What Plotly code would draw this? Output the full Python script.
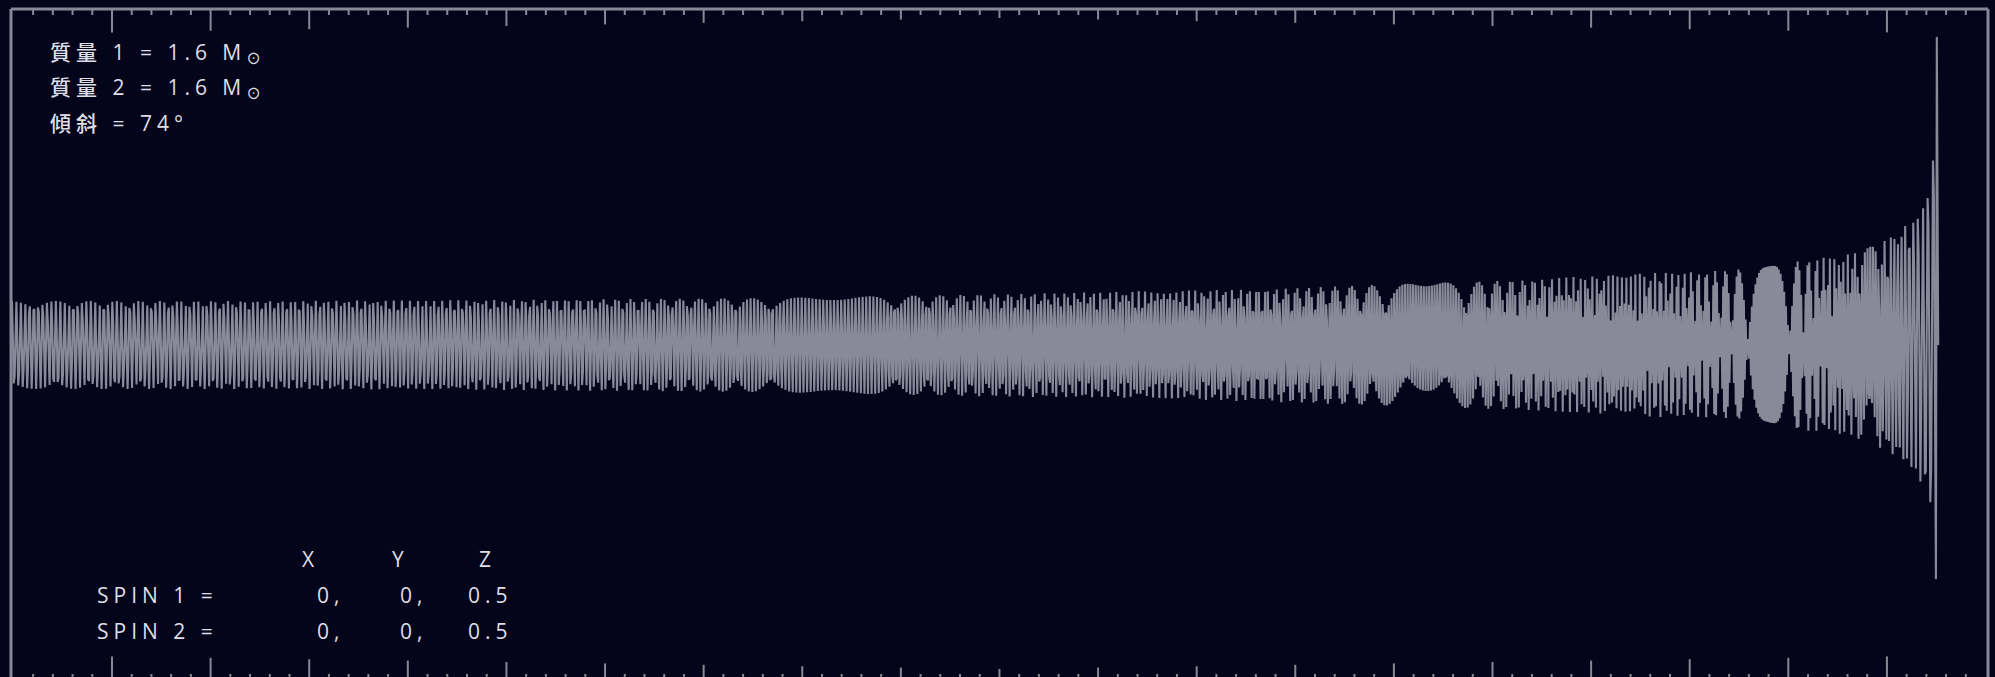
import numpy as np
import plotly.graph_objects as go

# ---- strain envelope (arb. units, 0 = trace centre), read per time knot ----
env_t = [-0.024, 2.44, 5.03, 7.6, 10.19, 11.47, 12.77, 14.05, 15.32, 16.0, 16.64,
         17.11, 17.71, 18.12, 18.63, 18.96, 19.20, 19.33, 19.44, 19.47, 19.49, 19.50]
env_upper = [44, 44, 45, 47, 51, 54, 56, 61, 65, 69, 72,
             73, 77, 84, 91, 103, 120, 138, 164, 194, 259, 308]
env_lower = [44, 44, 45, 47, 52, 53, 57, 61, 65, 68, 72,
             72, 75, 85, 91, 104, 119, 134, 164, 195, 215, 234]

# merger peak of the trace
peak_t = [19.497, 19.506, 19.52]
peak_h = [-234, 308, 0]

# timing of the inspiral (axis units)
t_start = -0.024
t_merge = 19.515
samples_per_unit = 110.0      # sample rate of the stored trace
half_rate_t = 17.81           # time where the GW frequency is half the sample rate
tau_soft = 0.45               # frequency levels off inside this time-to-merger

# frame ticks
major_ticks = list(range(1, 20))
minor_ticks = [round(0.2 * j, 1) for j in range(1, 100) if j % 5]

# labels
params = ["質量 1 = 1.6 M", "質量 2 = 1.6 M", "傾斜 = 74°"]
spin_cols = ["X", "Y", "Z"]
spin_rows = ["SPIN 1 =", "SPIN 2 ="]
spin_vals = [["0,", "0,", "0.5"], ["0,", "0,", "0.5"]]

# ---- figure geometry ----
W, H = 1995, 677
ML, MR, MT, MB = 11, 7, 9, 0
PW, PH = W - ML - MR, H - MT - MB
x_range = [-0.0243, 20.025]
y_range = [-332, 336]

BG = "#04051a"
FRAME = "#878896"
WAVE = "rgb(136,137,153)"
TEXT = "#dedee6"

# ---- inspiral trace: chirp with f ~ tau^(-3/8), softened at merger ----
dt = 1.0 / samples_per_unit
t = np.arange(t_start, peak_t[0] - 0.004, dt)
tau_eff = np.sqrt((t_merge - t) ** 2 + tau_soft ** 2)
tau_ref = np.sqrt((t_merge - half_rate_t) ** 2 + tau_soft ** 2)
freq = (samples_per_unit / 2.0) * (tau_ref / tau_eff) ** 0.375
phase = 2 * np.pi * np.cumsum(freq) * dt
k0 = int(np.argmin(np.abs(t - half_rate_t)))
phase = phase - phase[k0]
c = np.cos(phase)
amp = np.where(c >= 0, np.interp(t, env_t, env_upper), np.interp(t, env_t, env_lower))
h = amp * c

tx = np.concatenate([t, peak_t])
hy = np.concatenate([h, peak_h])

fig = go.Figure()
fig.add_trace(go.Scatter(x=tx, y=hy, mode="lines",
                         line=dict(color=WAVE, width=2.1),
                         hoverinfo="skip", showlegend=False))

shapes = []
# frame: left, right, top
for xp in (0, 1):
    shapes.append(dict(type="line", xref="paper", yref="paper", x0=xp, x1=xp,
                       y0=-0.02, y1=1, line=dict(color=FRAME, width=3)))
shapes.append(dict(type="line", xref="paper", yref="paper", x0=0, x1=1, y0=1, y1=1,
                   line=dict(color=FRAME, width=3)))

def tick(xv, length, top):
    return dict(type="line", xref="x", yref="paper", ysizemode="pixel",
                yanchor=1 if top else 0, x0=xv, x1=xv,
                y0=0, y1=-length if top else length,
                line=dict(color=FRAME, width=2))

for k in major_ticks:
    d = abs(k - 10)
    shapes.append(tick(k, 9 + 1.6 * d, True))
    shapes.append(tick(k, 8 + 1.4 * d, False))
for m in minor_ticks:
    shapes.append(tick(m, 6, True))
    shapes.append(tick(m, 3, False))

def px(xpix):
    return (xpix - ML) / PW

def py(ypix):
    return (H - MB - ypix) / PH

FONT = dict(family="Open Sans, Noto Sans CJK TC, sans-serif", size=21, color=TEXT,
            weight=500)
SP = '<span style="letter-spacing:5px">{}</span>'

annotations = []
for i, s in enumerate(params):
    txt = SP.format(s)
    if s.endswith("M"):
        txt += "<sub>⊙</sub>"
    annotations.append(dict(x=px(48), y=py(53 + 35 * i), xref="paper", yref="paper",
                            text=txt, showarrow=False, xanchor="left", yanchor="middle",
                            font=FONT))

col_x = [308, 398, 485]
for cx, lab in zip(col_x, spin_cols):
    annotations.append(dict(x=px(cx), y=py(559), xref="paper", yref="paper",
                            text=lab, showarrow=False, xanchor="center",
                            yanchor="middle", font=FONT))
val_x = [315, 398, 466]
for r, (lab, vals) in enumerate(zip(spin_rows, spin_vals)):
    yy = py(595 + 36 * r)
    annotations.append(dict(x=px(95), y=yy, xref="paper", yref="paper",
                            text=SP.format(lab), showarrow=False, xanchor="left",
                            yanchor="middle", font=FONT))
    for vx, v in zip(val_x, vals):
        annotations.append(dict(x=px(vx), y=yy, xref="paper", yref="paper",
                                text=SP.format(v), showarrow=False, xanchor="left",
                                yanchor="middle", font=FONT))

fig.update_layout(
    width=W, height=H,
    margin=dict(l=ML, r=MR, t=MT, b=MB, pad=0),
    paper_bgcolor=BG, plot_bgcolor=BG,
    xaxis=dict(range=x_range, visible=False, fixedrange=True),
    yaxis=dict(range=y_range, visible=False, fixedrange=True),
    shapes=shapes, annotations=annotations,
    showlegend=False,
)

fig.write_html("out.html", config=dict(displayModeBar=False))
